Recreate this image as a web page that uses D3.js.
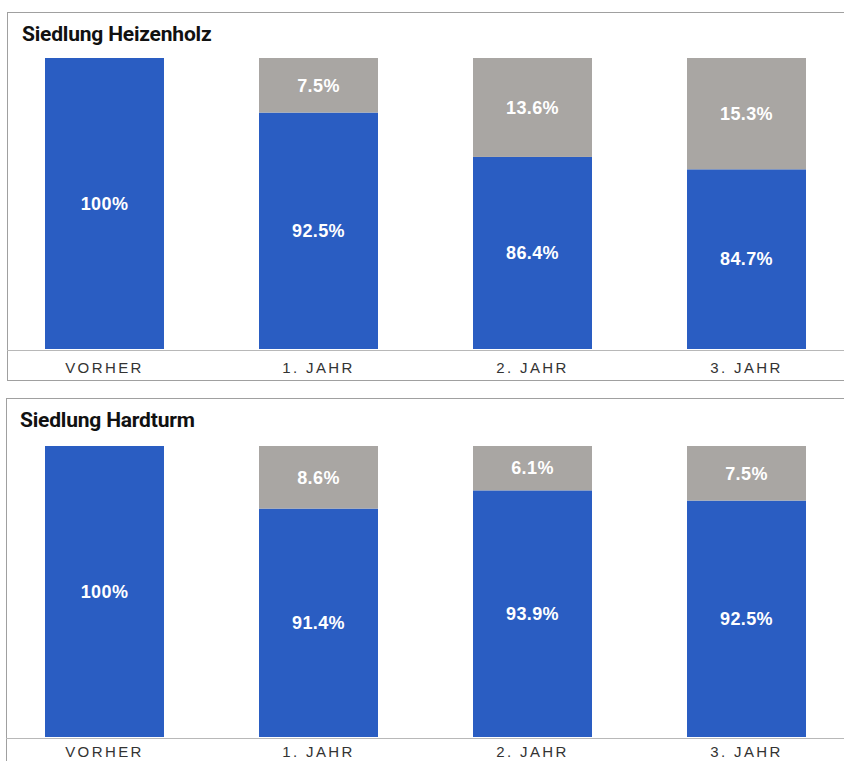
<!DOCTYPE html>
<html><head><meta charset="utf-8">
<script src="https://cdn.jsdelivr.net/npm/d3@7"></script>
<style>html,body{margin:0;padding:0;background:#fff;}svg{display:block;}</style>
</head><body>
<script>
const categories = ["VORHER", "1. JAHR", "2. JAHR", "3. JAHR"];
const heizenholzBlue = [100, 92.5, 86.4, 84.7];
const heizenholzGray = [0, 7.5, 13.6, 15.3];
const hardturmBlue = [100, 91.4, 93.9, 92.5];
const hardturmGray = [0, 8.6, 6.1, 7.5];
const titles = ["Siedlung Heizenholz", "Siedlung Hardturm"];
const yDomain = [60, 100];

const W = 844, H = 761;
const svg = d3.select("body").append("svg").attr("width", W).attr("height", H);

const panels = [
  {title: titles[0], blue: heizenholzBlue, gray: heizenholzGray, box: [7, 12, 380], titleY: 41, titleX: 22, y0: 349, y1: 58, pad: 12},
  {title: titles[1], blue: hardturmBlue, gray: hardturmGray, box: [6, 398, 800], titleY: 427, titleX: 20, y0: 737, y1: 446, pad: 8}
];

const x = d3.scaleBand().domain(categories).range([45, 806]).paddingInner(0.444).paddingOuter(0);

panels.forEach(p => {
  const g = svg.append("g");
  g.append("rect").attr("x", p.box[0] + 0.5).attr("y", p.box[1] + 0.5)
    .attr("width", 900).attr("height", p.box[2] - p.box[1])
    .attr("fill", "none").attr("stroke", "#a0a0a0").attr("stroke-width", 1);
  g.append("text").attr("x", p.titleX).attr("y", p.titleY)
    .attr("font-family", "Roboto, 'Liberation Sans', sans-serif").attr("font-weight", 700)
    .attr("font-size", 21).attr("letter-spacing", "-0.2").attr("fill", "#111").text(p.title);

  const y = d3.scaleLinear().domain(yDomain).range([p.y0, p.y1]);
  const data = categories.map((c, i) => ({c, b: p.blue[i], g: p.gray[i]}));

  g.selectAll(".blue").data(data).join("rect")
    .attr("x", d => x(d.c)).attr("width", x.bandwidth())
    .attr("y", d => y(d.b)).attr("height", d => y(yDomain[0]) - y(d.b))
    .attr("fill", "#2a5dc2");
  g.selectAll(".gray").data(data.filter(d => d.g > 0)).join("rect")
    .attr("x", d => x(d.c)).attr("width", x.bandwidth())
    .attr("y", d => y(d.b + d.g)).attr("height", d => y(d.b) - y(d.b + d.g))
    .attr("fill", "#a9a6a3");

  const axis = d3.axisBottom(x).tickSize(0).tickPadding(p.pad);
  const ag = g.append("g").attr("transform", `translate(0,${p.y0 + 1})`).call(axis);
  ag.select(".domain").remove();
  ag.append("line").attr("x1", p.box[0]).attr("x2", W).attr("y1", 0.5).attr("y2", 0.5)
    .attr("stroke", "#b8b8b8");
  ag.selectAll(".tick text")
    .attr("font-family", "'Liberation Sans', Arial, sans-serif").attr("font-size", 15)
    .attr("letter-spacing", "2.4").attr("fill", "#333");

  const lab = "'Liberation Sans', Arial, sans-serif";
  g.selectAll(".bl").data(data).join("text")
    .attr("x", d => x(d.c) + x.bandwidth() / 2)
    .attr("y", d => (y(d.b) + y(yDomain[0])) / 2)
    .attr("dy", "0.35em").attr("text-anchor", "middle")
    .attr("font-family", lab).attr("font-weight", 700).attr("font-size", 18)
    .attr("letter-spacing", "0.4").attr("fill", "#fff")
    .text(d => (d.b === 100 ? "100" : d.b.toFixed(1)) + "%");
  g.selectAll(".gl").data(data.filter(d => d.g > 0)).join("text")
    .attr("x", d => x(d.c) + x.bandwidth() / 2)
    .attr("y", d => (y(d.b) + y(d.b + d.g)) / 2)
    .attr("dy", "0.35em").attr("text-anchor", "middle")
    .attr("font-family", lab).attr("font-weight", 700).attr("font-size", 18)
    .attr("letter-spacing", "0.4").attr("fill", "#fff")
    .text(d => d.g.toFixed(1) + "%");
});
</script>
</body></html>
